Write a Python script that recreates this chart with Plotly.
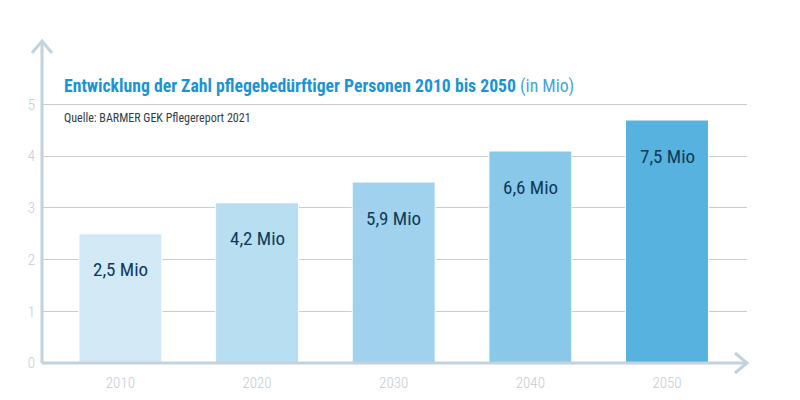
import plotly.graph_objects as go

years = ["2010", "2020", "2030", "2040", "2050"]
bar_heights = [2.5, 3.1, 3.5, 4.1, 4.7]
bar_labels = ["2,5 Mio", "4,2 Mio", "5,9 Mio", "6,6 Mio", "7,5 Mio"]
bar_colors = ["#d3e9f6", "#b7dff1", "#a0d2ed", "#89c8e8", "#58b2df"]
y_ticks = [0, 1, 2, 3, 4, 5]

title_text = "Entwicklung der Zahl pflegebedürftiger Personen 2010 bis 2050"
title_suffix = "(in Mio)"
source_text = "Quelle: BARMER GEK Pflegereport 2021"

FONT = "Roboto Condensed, Liberation Sans Narrow, DejaVu Sans Condensed, Roboto, sans-serif"
AXIS_COL = "#c3d2dc"
GRID_COL = "#c9cdd1"
TICK_COL = "#c4ccd3"

W, H = 800, 400
OFF = 8  # page body margin
# target page-pixel geometry
left_px, right_px, top_px, bottom_px = 42, 747, 41, 363
L = left_px - OFF
R = W - (right_px - OFF)
T = top_px - OFF
B = H - (bottom_px - OFF)
pw = W - L - R
ph = H - T - B


def px_x(x):
    return (x - left_px) / pw


def px_y(y):
    return (bottom_px - y) / ph


fig = go.Figure()
fig.add_trace(go.Bar(
    x=years, y=bar_heights, width=0.607,
    marker=dict(color=bar_colors, line=dict(color="white", width=1)),
    hoverinfo="skip",
))

for i, (h, lab) in enumerate(zip(bar_heights, bar_labels)):
    fig.add_annotation(x=i, y=h, xref="x", yref="y", text=lab, showarrow=False,
                       yanchor="middle", yshift=-36,
                       font=dict(family=FONT, size=19, color="#0e3a5a"))

fig.add_annotation(xref="paper", yref="paper", x=px_x(62), y=px_y(86),
                   xanchor="left", yanchor="middle", showarrow=False,
                   text=f"<b>{title_text}</b> <span style='color:#45a5dc'>{title_suffix}</span>",
                   font=dict(family=FONT, size=17.7, color="#1a94d4"))
fig.add_annotation(xref="paper", yref="paper", x=px_x(62), y=px_y(118),
                   xanchor="left", yanchor="middle", showarrow=False,
                   text=source_text,
                   font=dict(family=FONT, size=12, color="#333d45"))

# axis lines with open chevron arrows
fig.add_shape(type="line", xref="paper", yref="paper", x0=0, x1=0, y0=0, y1=1,
              line=dict(color=AXIS_COL, width=3), layer="above")
fig.add_shape(type="line", xref="paper", yref="paper", x0=0, x1=1, y0=0, y1=0,
              line=dict(color=AXIS_COL, width=3), layer="above")
fig.add_shape(type="path", xref="paper", yref="paper", xsizemode="pixel", ysizemode="pixel",
              xanchor=0, yanchor=1, path="M -10,-12 L 0,0 L 10,-12",
              line=dict(color=AXIS_COL, width=3), layer="above")
fig.add_shape(type="path", xref="paper", yref="paper", xsizemode="pixel", ysizemode="pixel",
              xanchor=1, yanchor=0, path="M -12,10 L 0,0 L -12,-10",
              line=dict(color=AXIS_COL, width=3), layer="above")

unit_px = 51.7
cat_px = 136.65
first_center = 120.4
x0 = -0.5 - (first_center - left_px - 0.5 * cat_px) / cat_px
x1 = x0 + pw / cat_px

fig.update_layout(
    width=W, height=H,
    margin=dict(l=L, r=R, t=T, b=B, autoexpand=False),
    paper_bgcolor="white", plot_bgcolor="white",
    showlegend=False,
    font=dict(family=FONT),
    xaxis=dict(type="category", range=[x0, x1], showgrid=False, showline=False,
               zeroline=False, ticks="", ticklabelstandoff=9, automargin=False,
               tickfont=dict(family=FONT, size=15, weight=300, color=TICK_COL)),
    yaxis=dict(range=[0, ph / unit_px], tickvals=y_ticks, showgrid=True, gridcolor=GRID_COL,
               gridwidth=1, zeroline=False, showline=False, ticks="", automargin=False,
               ticklabelstandoff=6,
               tickfont=dict(family=FONT, size=15, weight=300, color=TICK_COL)),
)

fig.write_html("out.html")
